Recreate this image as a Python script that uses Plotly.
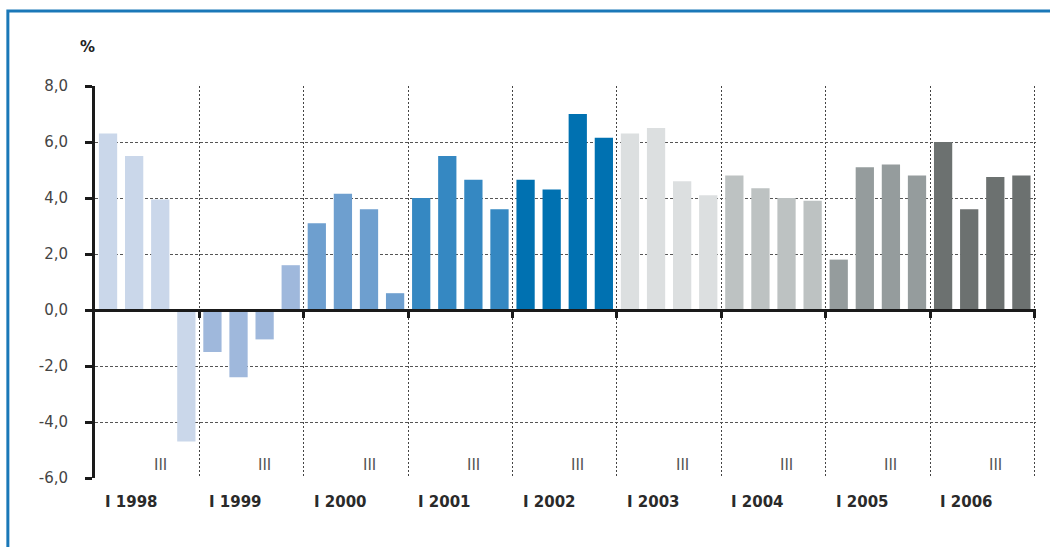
import plotly.graph_objects as go

years = ["1998", "1999", "2000", "2001", "2002", "2003", "2004", "2005", "2006"]
quarters = ["I", "II", "III", "IV"]
values = [
    6.3, 5.5, 3.95, -4.7,
    -1.5, -2.4, -1.05, 1.6,
    3.1, 4.15, 3.6, 0.6,
    4.0, 5.5, 4.65, 3.6,
    4.65, 4.3, 7.0, 6.15,
    6.3, 6.5, 4.6, 4.1,
    4.8, 4.35, 4.0, 3.9,
    1.8, 5.1, 5.2, 4.8,
    6.0, 3.6, 4.75, 4.8,
]
year_colors = ["#cad7ea", "#9fb8dc", "#6e9fcf", "#3588c2", "#0071b1",
               "#dcdfe0", "#bdc2c2", "#959c9d", "#6c7170"]
y_ticks = [-6, -4, -2, 0, 2, 4, 6, 8]
y_tick_labels = [f"{v:.1f}".replace(".", ",") for v in y_ticks]

nq = len(quarters)
xs = list(range(len(values)))
colors = [year_colors[i // nq] for i in xs]

fig = go.Figure()
fig.add_trace(go.Bar(x=xs, y=values, marker=dict(color=colors, line=dict(width=0)),
                     width=0.7, showlegend=False, hoverinfo="skip"))

boundaries = [i * nq + nq - 0.5 for i in range(len(years))]

# quarter and year labels
for i, yr in enumerate(years):
    fig.add_annotation(x=i * nq + 2, y=-5.55, xref="x", yref="y", text="III",
                       showarrow=False, yanchor="middle",
                       font=dict(family="DejaVu Sans", size=15, color="#555"))
    fig.add_annotation(x=i * nq, y=-0.061, xref="x", yref="paper", text="I " + yr,
                       showarrow=False, xanchor="left", yanchor="middle", xshift=-5,
                       font=dict(family="DejaVu Sans", size=15, color="#2a2a2a", weight="bold"))

fig.add_annotation(x=0.002, y=1.0995, xref="paper", yref="paper", text="%",
                   showarrow=False, xanchor="right", yanchor="middle",
                   font=dict(family="DejaVu Sans", size=15, color="#222", weight="bold"))

# outer frame
fig.add_shape(type="rect", xref="paper", yref="paper",
              x0=-0.0926, x1=1.2, y0=-0.5, y1=1.1915,
              line=dict(color="#1a78b8", width=3), layer="below")

ymin, ymax = y_ticks[0], y_ticks[-1]
fig.update_layout(
    width=1050, height=547,
    margin=dict(l=95, r=14, t=86, b=69),
    paper_bgcolor="white", plot_bgcolor="white",
    bargap=0.3,
    xaxis=dict(range=[-0.5, len(values) - 0.44], tickvals=boundaries,
               showticklabels=False, showgrid=True, gridcolor="#444",
               griddash="2px,2px", gridwidth=1, zeroline=False,
               anchor="free", position=(0 - ymin) / (ymax - ymin),
               showline=True, linecolor="#1a1a1a", linewidth=3,
               ticks="outside", ticklen=6, tickwidth=3, tickcolor="#1a1a1a",
               layer="above traces"),
    yaxis=dict(range=[ymin, ymax], tickvals=y_ticks, ticktext=y_tick_labels,
               showgrid=True, gridcolor="#555", griddash="3px,2px", gridwidth=1,
               zeroline=False, showline=True, linecolor="#1a1a1a", linewidth=3,
               ticks="outside", ticklen=7, tickwidth=3, tickcolor="#1a1a1a",
               ticklabelstandoff=14,
               tickfont=dict(family="DejaVu Sans", size=15, color="#444"),
               layer="above traces"),
)

fig.write_html("out.html", config={"displayModeBar": False},
               post_script="document.body.style.margin='0';")
